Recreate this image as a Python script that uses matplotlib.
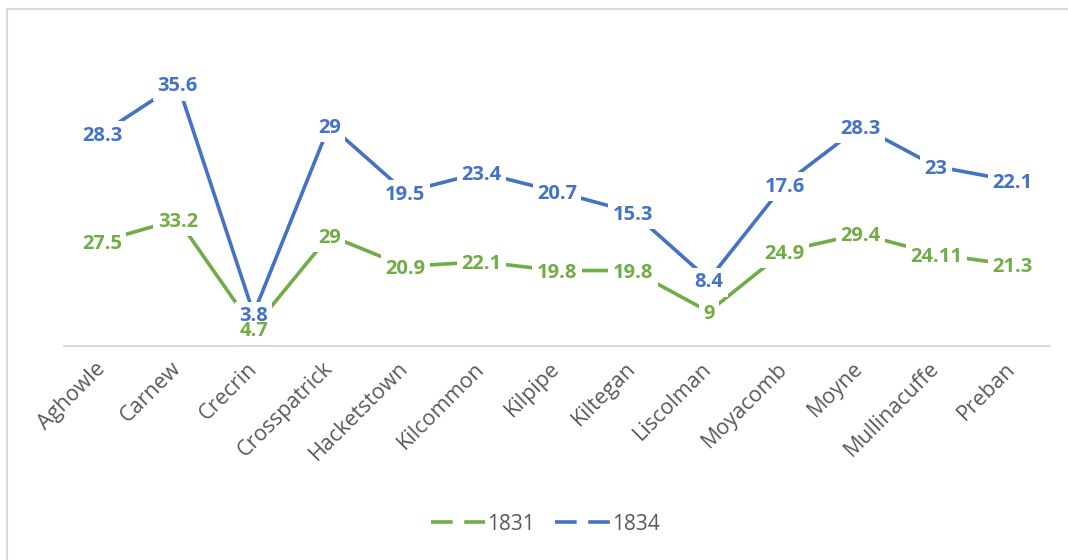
import matplotlib
matplotlib.use("Agg")
import matplotlib.pyplot as plt
import numpy as np
from matplotlib.lines import Line2D
from matplotlib.patches import Rectangle

parishes = ["Aghowle", "Carnew", "Crecrin", "Crosspatrick", "Hacketstown",
            "Kilcommon", "Kilpipe", "Kiltegan", "Liscolman", "Moyacomb",
            "Moyne", "Mullinacuffe", "Preban"]
v1831 = [27.5, 33.2, 4.7, 29, 20.9, 22.1, 19.8, 19.8, 9, 24.9, 29.4, 24.11, 21.3]
v1834 = [28.3, 35.6, 3.8, 29, 19.5, 23.4, 20.7, 15.3, 8.4, 17.6, 28.3, 23, 22.1]
label1831 = ["27.5", "33.2", "4.7", "29", "20.9", "22.1", "19.8", "19.8", "9",
             "24.9", "29.4", "24.11", "21.3"]
label1834 = ["28.3", "35.6", "3.8", "29", "19.5", "23.4", "20.7", "15.3", "8.4",
             "17.6", "28.3", "23", "22.1"]

GREEN = "#70AD47"
BLUE = "#4472C4"
GRAY = "#595959"
LABEL_FONT = ["Open Sans", "DejaVu Sans"]

fig = plt.figure(figsize=(10.68, 5.6), dpi=100)
# chart border (only left and top visible in the crop)
fig.patches.append(Rectangle((7 / 1068, -0.1), 1.2, 1 - 9 / 560 + 0.1,
                             transform=fig.transFigure, fill=False,
                             edgecolor="#D9D9D9", linewidth=1.5))

ax = fig.add_axes([64 / 1068, 214 / 560, 986 / 1068, 301 / 560])
x = np.arange(len(parishes))
# stacked line chart: 1834 sits on top of 1831
lower = np.array(v1831)
upper = lower + np.array(v1834)

ax.plot(x, lower, color=GREEN, lw=2.6, solid_capstyle="round", zorder=2)
ax.plot(x, upper, color=BLUE, lw=2.6, solid_capstyle="round", zorder=2)

box = dict(boxstyle="square,pad=0.22", fc="white", ec="none")
lbl = dict(ha="center", va="center_baseline", fontsize=14.5,
           fontweight="bold", family=LABEL_FONT)
# white boxes of the 1834 labels first, then 1831 labels, then 1834 text
for xi, yi, t in zip(x, upper, label1834):
    ax.text(xi, yi, t, color=(1, 1, 1, 0), bbox=box, zorder=3, **lbl)
for xi, yi, t in zip(x, lower, label1831):
    ax.text(xi, yi, t, color=GREEN, bbox=box, zorder=4, **lbl)
for xi, yi, t in zip(x, upper, label1834):
    ax.text(xi, yi, t, color=BLUE, zorder=5, **lbl)

ax.set_xlim(-0.5, len(parishes) - 0.5)
ax.set_ylim(0, 79)
ax.set_yticks([])
ax.set_xticks(x)
ax.set_xticklabels(parishes, rotation=45, ha="right", va="center",
                   rotation_mode="anchor", color=GRAY, fontsize=15.5,
                   family=["Open Sans", "DejaVu Sans"])
ax.tick_params(axis="x", length=0, pad=14)
for side in ["top", "left", "right"]:
    ax.spines[side].set_visible(False)
ax.spines["bottom"].set_color("#D9D9D9")
ax.spines["bottom"].set_linewidth(1.5)
ax.spines["bottom"].set_zorder(1)

handles = [Line2D([], [], color=GREEN, lw=2.6, dashes=(6, 3.2)),
           Line2D([], [], color=BLUE, lw=2.6, dashes=(6, 3.2))]
fig.legend(handles, ["1831", "1834"], loc="center", bbox_to_anchor=(545 / 1068, 1 - 524 / 560),
           ncol=2, frameon=False, handlelength=2.6, handletextpad=0.1,
           columnspacing=1.0, prop={"family": ["Open Sans", "DejaVu Sans"], "size": 15},
           labelcolor=GRAY)

fig.savefig("out.png", dpi=100)
